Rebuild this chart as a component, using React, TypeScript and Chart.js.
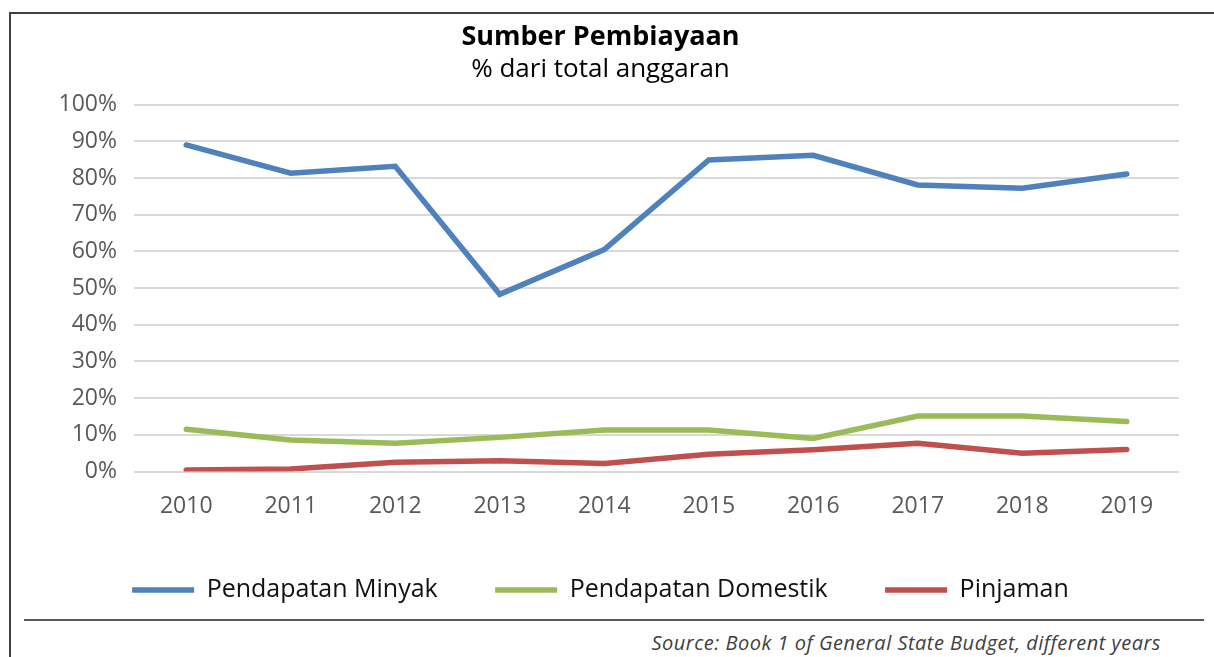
import React, { useEffect, useRef } from "react";
import { Chart, registerables } from "chart.js";

Chart.register(...registerables);

const years = ["2010", "2011", "2012", "2013", "2014", "2015", "2016", "2017", "2018", "2019"];
const minyak = [89, 81.3, 83.2, 48.3, 60.5, 84.9, 86.2, 78.1, 77.2, 81.1];
const domestik = [11.5, 8.6, 7.7, 9.3, 11.3, 11.3, 9.0, 15.1, 15.1, 13.6];
const pinjaman = [0.4, 0.7, 2.5, 2.9, 2.2, 4.7, 5.9, 7.7, 5.0, 6.0];
const seriesNames = ["Pendapatan Minyak", "Pendapatan Domestik", "Pinjaman"];
const titleText = "Sumber Pembiayaan";
const subtitleText = "% dari total anggaran";
const sourceText = "Source: Book 1 of General State Budget, different years";

const FONT = "'Open Sans', 'Noto Sans', sans-serif";

export default function App() {
  const ref = useRef<HTMLCanvasElement | null>(null);

  useEffect(() => {
    if (!ref.current) return;
    const mk = (label: string, data: number[], color: string) => ({
      label,
      data,
      borderColor: color,
      backgroundColor: color,
      borderWidth: 5.5,
      borderCapStyle: "round" as const,
      pointRadius: 0,
      pointHoverRadius: 0,
      tension: 0,
      fill: false,
      pointStyle: "line" as const,
    });
    const chart = new Chart(ref.current, {
      type: "line",
      data: {
        labels: years,
        datasets: [
          mk(seriesNames[0], minyak, "#4F81BD"),
          mk(seriesNames[1], domestik, "#9BBB59"),
          mk(seriesNames[2], pinjaman, "#C0504D"),
        ],
      },
      options: {
        responsive: false,
        animation: false,
        events: [],
        layout: { padding: { left: 12, right: 21, top: 0, bottom: 0.5 } },
        plugins: {
          title: {
            display: true,
            text: titleText,
            color: "#000",
            font: { family: FONT, size: 27, weight: "bold" },
            padding: { top: 8, bottom: 0 },
          },
          subtitle: {
            display: true,
            text: subtitleText,
            color: "#000",
            font: { family: FONT, size: 26, weight: "normal" },
            padding: { top: 1, bottom: 19 },
          },
          legend: {
            display: true,
            position: "bottom",
            labels: {
              usePointStyle: true,
              pointStyleWidth: 62,
              boxWidth: 62,
              padding: 57.4,
              color: "#111",
              font: { family: FONT, size: 25 },
            },
          },
          tooltip: { enabled: false },
        },
        scales: {
          x: {
            offset: true,
            grid: { display: false, drawTicks: false },
            border: { display: false },
            ticks: {
              color: "#595959",
              font: { family: FONT, size: 23 },
              padding: 21,
              maxRotation: 0,
              autoSkip: false,
            },
            afterFit: (s: any) => {
              s.height = 48.6;
            },
          },
          y: {
            min: 0,
            max: 100,
            grid: { color: "#D9D9D9", lineWidth: 2, drawTicks: false },
            border: { display: false },
            ticks: {
              stepSize: 10,
              color: "#595959",
              font: { family: FONT, size: 23 },
              padding: 17,
              callback: (v: any) => v + "%",
            },
            afterFit: (s: any) => {
              s.width = 112;
            },
          },
        },
      },
    });
    return () => chart.destroy();
  }, []);

  return (
    <div
      style={{
        position: "absolute",
        left: 0,
        top: 0,
        width: 1214,
        height: 657,
        background: "#fff",
        overflow: "hidden",
      }}
    >
      <div style={{ position: "absolute", left: 9, top: 12, width: 2, height: 645, background: "#404040" }} />
      <div style={{ position: "absolute", left: 9, top: 12, width: 1205, height: 2, background: "#404040" }} />
      <canvas
        ref={ref}
        width={1190}
        height={600}
        style={{ position: "absolute", left: 10, top: 13, width: 1190, height: 600 }}
      />
      <div style={{ position: "absolute", left: 24, top: 619, width: 1180, height: 2, background: "#595959" }} />
      <div
        style={{
          position: "absolute",
          right: 53,
          top: 632,
          lineHeight: "22px",
          fontFamily: FONT,
          fontStyle: "italic",
          fontSize: 20,
          letterSpacing: "0.5px",
          color: "#404040",
          whiteSpace: "nowrap",
        }}
      >
        {sourceText}
      </div>
    </div>
  );
}
